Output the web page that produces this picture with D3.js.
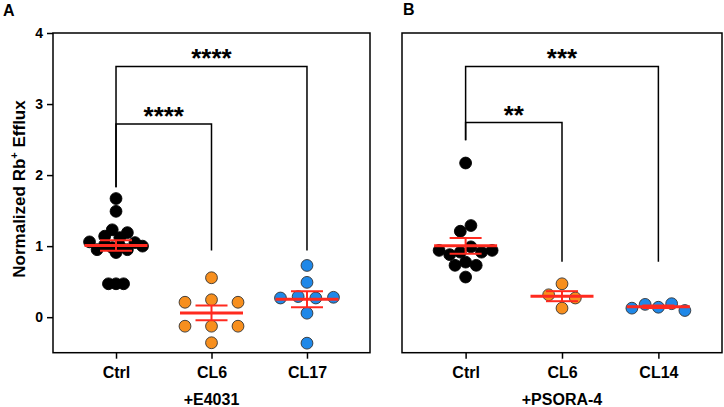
<!DOCTYPE html>
<html>
<head>
<meta charset="utf-8">
<script src="https://cdn.jsdelivr.net/npm/d3@7"></script>
<style>
  body { margin: 0; background: #fff; }
  text { font-family: "Liberation Sans", Arial, sans-serif; font-weight: bold; }
</style>
</head>
<body>
<div id="chart"></div>
<script>
// values
const catsA = ["Ctrl", "CL6", "CL17"];
const catsB = ["Ctrl", "CL6", "CL14"];

const ctrlA = [1.67, 1.49, 1.14, 1.23, 1.12, 1.19,
    1.06, 0.95, 1.02, 0.98, 0.91, 1.0, 0.95, 1.05, 1.0,
    0.47, 0.47, 0.47];
const cl6A = [0.555, 0.21, 0.245, 0.21, -0.127, -0.127, -0.127, -0.36];
const cl17A = [0.728, 0.49, 0.27, 0.29, 0.27, 0.28, 0.056, -0.366];

const ctrlB = [2.17, 1.21, 1.29, 0.94, 0.88, 0.915, 0.99, 0.915, 0.94,
    0.73, 0.775, 0.73, 0.565];
const cl6B = [0.47, 0.315, 0.27, 0.127];
const cl14B = [0.127, 0.18, 0.14, 0.19, 0.094];

// comparisons: [from, to, bar height, left foot, right foot, label]
const sigA = [
    ["Ctrl", "CL6", 2.72, 1.83, 0.94, "****"],
    ["Ctrl", "CL17", 3.53, 1.83, 0.94, "****"]
];
const sigB = [
    ["Ctrl", "CL6", 2.74, 2.49, 0.78, "**"],
    ["Ctrl", "CL14", 3.53, 2.49, 0.78, "***"]
];

const yTicks = [0, 1, 2, 3, 4];
const groupColors = ["#000000", "#f78f1e", "#1f88e8"];

function main() {
    const width = 724, height = 407;
    const top = 33, bottom = 352.7;

    const svg = d3.select("#chart").append("svg")
        .attr("width", width)
        .attr("height", height);

    const y = d3.scaleLinear().domain([-0.5, 4]).range([bottom, top]);

    const r = 5.9;

    // prism-like scatter: rows of close values spread around the centre
    function swarm(values) {
        const binH = 0.15, spreadW = 53, maxStep = 26.7;
        const order = values.map((v, i) => i).sort((a, b) => values[b] - values[a]);
        const rows = [];
        let cur = null;
        order.forEach(i => {
            if (!cur || values[cur.start] - values[i] > binH) {
                cur = { start: i, members: [] };
                rows.push(cur);
            }
            cur.members.push(i);
        });
        const maxN = d3.max(rows, d => d.members.length);
        const step = maxN > 1 ? Math.min(spreadW / (maxN - 1), maxStep) : 0;
        const off = new Array(values.length).fill(0);
        rows.forEach(row => {
            const n = row.members.length;
            row.members.sort((a, b) => a - b).forEach((i, k) => {
                off[i] = (k - (n - 1) / 2) * step;
            });
        });
        return off;
    }

    function panel(left, right, cats, groups, sig, title, letter, showY) {
        const x = d3.scalePoint().domain(cats).range([left, right]).padding(0.66);
        const g = svg.append("g");

        // frame
        g.append("rect")
            .attr("x", left).attr("y", top)
            .attr("width", right - left).attr("height", bottom - top)
            .attr("fill", "none").attr("stroke", "#000").attr("stroke-width", 1.5);

        const xAxis = g.append("g")
            .attr("transform", `translate(0,${bottom})`)
            .call(d3.axisBottom(x).tickSize(6).tickPadding(8));
        xAxis.select(".domain").remove();
        xAxis.selectAll("line").attr("stroke-width", 1.5);
        xAxis.selectAll("text").attr("font-size", 16).attr("fill", "#000")
            .attr("font-family", "Liberation Sans, Arial, sans-serif");

        if (showY) {
            const yAxis = g.append("g")
                .attr("transform", `translate(${left},0)`)
                .call(d3.axisLeft(y).tickValues(yTicks).tickFormat(d3.format("d"))
                    .tickSize(6).tickPadding(4));
            yAxis.select(".domain").remove();
            yAxis.selectAll("line").attr("stroke-width", 1.5);
            yAxis.selectAll("text").attr("font-size", 14).attr("fill", "#000")
                .attr("font-family", "Liberation Sans, Arial, sans-serif");
        }

        // group caption
        g.append("text")
            .attr("x", x(cats[1]))
            .attr("y", 405)
            .attr("text-anchor", "middle")
            .attr("font-size", 16)
            .text(title);

        g.append("text")
            .attr("x", letter.x).attr("y", letter.y)
            .attr("font-size", 16)
            .text(letter.t);

        // significance brackets
        sig.forEach(s => {
            const x1 = x(s[0]), x2 = x(s[1]);
            g.append("path")
                .attr("d", `M${x1},${y(s[3])}V${y(s[2])}H${x2}V${y(s[4])}`)
                .attr("fill", "none").attr("stroke", "#000").attr("stroke-width", 1.5);
            g.append("text")
                .attr("x", (x1 + x2) / 2)
                .attr("y", y(s[2]) + 1)
                .attr("text-anchor", "middle")
                .attr("font-size", 26)
                .text(s[5]);
        });

        // dots
        groups.forEach((vals, gi) => {
            const cx = x(cats[gi]);
            const off = swarm(vals);
            g.append("g").selectAll("circle")
                .data(vals)
                .enter().append("circle")
                .attr("cx", (d, i) => cx + off[i])
                .attr("cy", d => y(d))
                .attr("r", r)
                .attr("fill", groupColors[gi])
                .attr("stroke", gi === 0 ? "#000" : "#333")
                .attr("stroke-width", 0.9);
        });

        // mean and SEM
        groups.forEach((vals, gi) => {
            const cx = x(cats[gi]);
            const m = d3.mean(vals);
            const sem = d3.deviation(vals) / Math.sqrt(vals.length);
            const eg = g.append("g").attr("stroke", "#ff2a1f");
            eg.append("line")
                .attr("x1", cx - 31.5).attr("x2", cx + 31.5)
                .attr("y1", y(m)).attr("y2", y(m))
                .attr("stroke-width", 3);
            eg.append("line")
                .attr("x1", cx).attr("x2", cx)
                .attr("y1", y(m + sem)).attr("y2", y(m - sem))
                .attr("stroke-width", 2);
            [m + sem, m - sem].forEach(v => {
                eg.append("line")
                    .attr("x1", cx - 16).attr("x2", cx + 16)
                    .attr("y1", y(v)).attr("y2", y(v))
                    .attr("stroke-width", 2);
            });
        });
    }

    panel(53, 370, catsA, [ctrlA, cl6A, cl17A], sigA, "+E4031", { x: 3, y: 16, t: "A" }, true);
    panel(402, 722, catsB, [ctrlB, cl6B, cl14B], sigB, "+PSORA-4", { x: 403, y: 15, t: "B" }, false);

    // y axis title
    const yt = svg.append("text")
        .attr("transform", "translate(25,189) rotate(-90)")
        .attr("text-anchor", "middle")
        .attr("font-size", 17);
    yt.append("tspan").text("Normalized  Rb");
    yt.append("tspan").attr("font-size", 11).attr("dy", -7).text("+");
    yt.append("tspan").attr("dy", 7).text(" Efflux");
}
main();
</script>
</body>
</html>
